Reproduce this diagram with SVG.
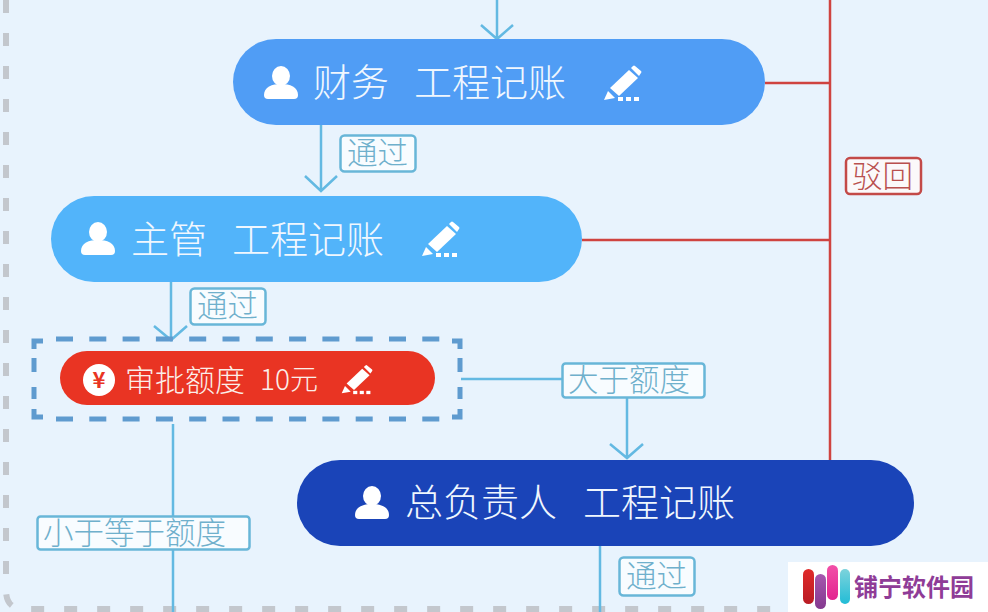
<svg xmlns="http://www.w3.org/2000/svg" width="988" height="612" viewBox="0 0 988 612">
<defs>
<style>
text{font-family:"Noto Sans CJK SC","Noto Sans",sans-serif;font-weight:300}
.nt{fill:#f0f7fe;font-size:38px}
.lb{fill:#f8fcff;stroke:#68b6d8;stroke-width:2.5}
.lt{fill:#6fb0cc;font-size:30.500px}
.fl{fill:none;stroke:#63b9e2;stroke-width:2.5}
.rl{fill:none;stroke:#cf4340;stroke-width:2.5}
.qd{fill:none;stroke:#5f9bcf;stroke-width:5}
</style>
<linearGradient id="g1" x1="0" y1="0" x2="0" y2="1"><stop offset="0" stop-color="#e02a2a"/><stop offset="1" stop-color="#b91c24"/></linearGradient>
<linearGradient id="g2" x1="0" y1="0" x2="0" y2="1"><stop offset="0" stop-color="#a657ae"/><stop offset="1" stop-color="#84398f"/></linearGradient>
<linearGradient id="g3" x1="0" y1="0" x2="0" y2="1"><stop offset="0" stop-color="#f24fa8"/><stop offset="1" stop-color="#e3238f"/></linearGradient>
<linearGradient id="g4" x1="0" y1="0" x2="0" y2="1"><stop offset="0" stop-color="#7dd3dc"/><stop offset="1" stop-color="#22bcd6"/></linearGradient>
<g id="user"><ellipse cx="0" cy="-8" rx="9" ry="10" fill="#fff"/><path d="M-17 11C-17 3-9 0 0 0S17 3 17 11Q17 15 13 15H-13Q-17 15-17 11Z" fill="#fff"/></g>
<g id="pen" fill="#fff"><path d="M-15 15L-11 6L-7 10L-4 13Z"/><path d="M-9 3L10-15L19-7L0 11Z"/><path d="M12-17L14-19Q15-20 16-19L22-14Q23-13 22-12L20-9Z"/><rect x="-1" y="12" width="5" height="4"/><rect x="7" y="12" width="5" height="4"/><rect x="15" y="12" width="5" height="4"/></g>
</defs>
<rect width="988" height="612" fill="#e8f3fd"/>
<path id="frame" d="M6 0V590Q6 609 24 609H790" fill="none" stroke="#c3c7cd" stroke-width="6" stroke-dasharray="13 20"/>
<g id="connectors">
<path class="fl" d="M497 0V38M481 25L497 39L513 25"/>
<path class="fl" d="M321 124V191M305 176L321 191L337 176"/>
<path class="fl" d="M171 281V339M154 326L171 340L187 326"/>
<path class="fl" d="M461 379H627V458M610 444L627 458L643 444"/>
<path class="fl" d="M173 424V612"/>
<path class="fl" d="M600 544V612"/>
<path class="rl" d="M830 0V460M765 83H830M582 240H830"/>
</g>
<g id="label-pass-1"><rect class="lb" x="340.500" y="135.500" width="75" height="36" rx="4"/><text class="lt" x="347" y="164">通过</text></g>
<g id="label-pass-2"><rect class="lb" x="190.500" y="288.500" width="75" height="36" rx="4"/><text class="lt" x="197" y="317">通过</text></g>
<g id="label-pass-3"><rect class="lb" x="619.500" y="557.500" width="75" height="38" rx="4"/><text class="lt" x="626" y="587">通过</text></g>
<g id="label-reject"><rect x="846" y="158" width="75" height="36" rx="4" fill="#fbf9fa" stroke="#c34a48" stroke-width="2.500"/><text x="852" y="187" font-size="30.500" fill="#b9504e">驳回</text></g>
<g id="label-greater"><rect class="lb" x="562.500" y="363.500" width="142" height="34" rx="3"/><text class="lt" x="568" y="391">大于额度</text></g>
<g id="label-less"><rect class="lb" x="37.500" y="516.500" width="212" height="33" rx="3"/><text class="lt" x="43" y="544">小于等于额度</text></g>
<g id="node-finance"><rect x="233" y="39" width="532" height="86" rx="43" fill="#509df5"/><use href="#user" x="281" y="84"/><text class="nt" x="313" y="96">财务</text><text class="nt" x="414" y="96">工程记账</text><use href="#pen" x="619" y="85"/></g>
<g id="node-supervisor"><rect x="51" y="196" width="531" height="86" rx="43" fill="#52b4fa"/><use href="#user" x="98" y="240"/><text class="nt" x="131" y="253">主管</text><text class="nt" x="232" y="253">工程记账</text><use href="#pen" x="437" y="241"/></g>
<g id="node-quota"><path class="qd" d="M34 349V341H43M452 341H460V349M460 409V417H452M43 417H34V409"/><path class="qd" stroke-dasharray="17 16.300" d="M56 339H440M56 419H440"/><path class="qd" stroke-dasharray="14 15" d="M34 358V399M460 358V399"/><rect x="60" y="351" width="375" height="54" rx="27" fill="#e93423"/><circle cx="99" cy="380" r="16" fill="#fff"/><text x="99" y="388" font-size="22" fill="#e93423" text-anchor="middle" style="font-weight:700">¥</text><text x="125" y="391" font-size="30" fill="#fbeee9">审批额度</text><text x="260" y="390" font-size="28" fill="#fbeee9">10元</text><use href="#pen" transform="translate(354 381) scale(.82)"/></g>
<g id="node-director"><rect x="297" y="460" width="617" height="86" rx="43" fill="#1a44b8"/><use href="#user" x="372" y="504"/><text class="nt" x="405" y="516">总负责人</text><text class="nt" x="583" y="516">工程记账</text></g>
<g id="watermark"><rect x="788" y="562" width="200" height="50" fill="#fff"/><rect x="803" y="569" width="11" height="35" rx="5.500" fill="url(#g1)"/><rect x="815" y="574" width="11" height="35" rx="5.500" fill="url(#g2)"/><rect x="827" y="565" width="11" height="35" rx="5.500" fill="url(#g3)"/><rect x="840" y="569" width="10" height="35" rx="5" fill="url(#g4)"/><text x="854" y="596" font-size="24" fill="#8f3c97" style="font-weight:700">铺宁软件园</text></g>
</svg>
